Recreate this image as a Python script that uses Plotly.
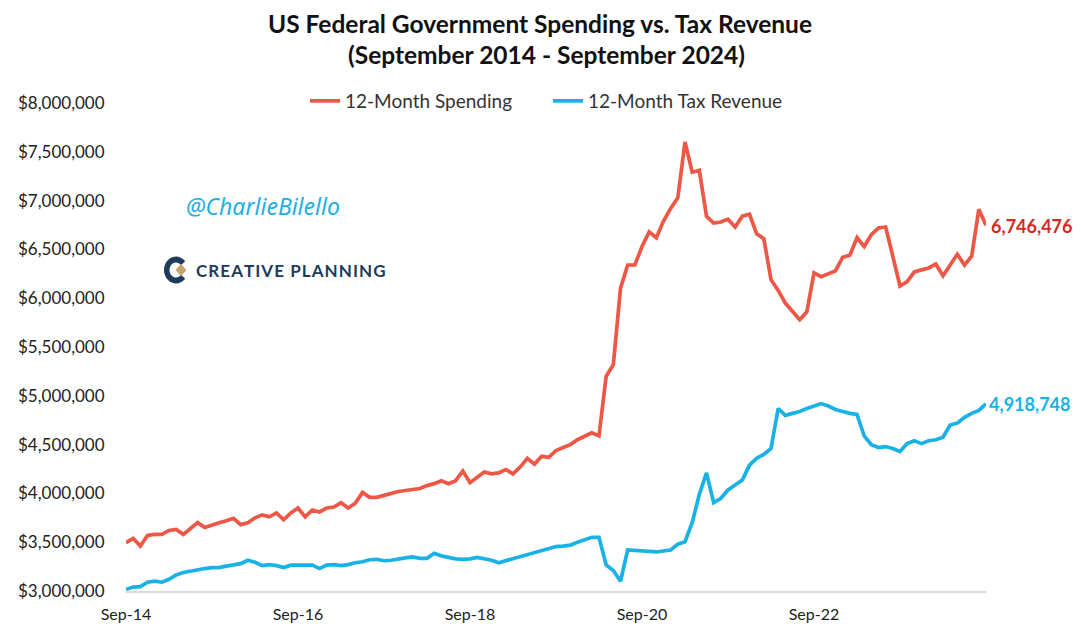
import numpy as np
import pandas as pd
import plotly.graph_objects as go

# ---------------- data (USD millions, 12-month rolling) ----------------
SCALE = 1_000_000
months = pd.date_range("2014-09-01", periods=121, freq="MS").strftime("%b-%y").tolist()

spending = [
    3.495, 3.54, 3.46, 3.57, 3.58, 3.58, 3.62, 3.63, 3.58, 3.64,
    3.70, 3.65, 3.68, 3.70, 3.72, 3.745, 3.68, 3.70, 3.75, 3.78,
    3.76, 3.80, 3.73, 3.80, 3.85, 3.76, 3.83, 3.81, 3.85, 3.86,
    3.905, 3.85, 3.90, 4.01, 3.96, 3.96, 3.98, 4.00, 4.02, 4.03,
    4.04, 4.05, 4.08, 4.10, 4.13, 4.10, 4.13, 4.23, 4.11, 4.165,
    4.22, 4.20, 4.21, 4.245, 4.20, 4.27, 4.36, 4.30, 4.38, 4.37,
    4.44, 4.47, 4.50, 4.55, 4.59, 4.62, 4.59, 5.20, 5.32, 6.10,
    6.34, 6.34, 6.53, 6.68, 6.62, 6.79, 6.92, 7.03, 7.60, 7.29,
    7.31, 6.84, 6.77, 6.78, 6.81, 6.73, 6.84, 6.86, 6.66, 6.61,
    6.19, 6.08, 5.95, 5.87, 5.78, 5.86, 6.26, 6.22, 6.25, 6.28,
    6.42, 6.44, 6.62, 6.53, 6.65, 6.72, 6.73, 6.43, 6.125, 6.17,
    6.27, 6.29, 6.31, 6.35, 6.23, 6.34, 6.45, 6.34, 6.43, 6.91,
    6.746476,
]

tax_revenue = [
    3.017, 3.04, 3.045, 3.09, 3.10, 3.09, 3.12, 3.165, 3.19, 3.205,
    3.215, 3.23, 3.24, 3.24, 3.255, 3.265, 3.28, 3.315, 3.295, 3.26,
    3.27, 3.26, 3.24, 3.265, 3.265, 3.265, 3.265, 3.23, 3.265, 3.27,
    3.26, 3.27, 3.29, 3.30, 3.32, 3.325, 3.31, 3.315, 3.33, 3.34,
    3.35, 3.335, 3.335, 3.386, 3.36, 3.345, 3.33, 3.325, 3.33, 3.345,
    3.33, 3.315, 3.29, 3.31, 3.335, 3.355, 3.375, 3.40, 3.42, 3.44,
    3.455, 3.46, 3.47, 3.50, 3.53, 3.55, 3.55, 3.266, 3.21, 3.10,
    3.42, 3.413, 3.41, 3.405, 3.40, 3.41, 3.42, 3.48, 3.505, 3.70,
    3.99, 4.21, 3.905, 3.95, 4.035, 4.086, 4.137, 4.29, 4.36, 4.40,
    4.46, 4.87, 4.80, 4.82, 4.84, 4.87, 4.895, 4.92, 4.895, 4.86,
    4.84, 4.82, 4.81, 4.59, 4.50, 4.47, 4.48, 4.46, 4.43, 4.51,
    4.54, 4.51, 4.54, 4.55, 4.575, 4.70, 4.72, 4.78, 4.82, 4.85,
    4.918748,
]

x_tick_labels = ["Sep-14", "Sep-16", "Sep-18", "Sep-20", "Sep-22"]
y_ticks = [3.0, 3.5, 4.0, 4.5, 5.0, 5.5, 6.0, 6.5, 7.0, 7.5, 8.0]

spend_vals = [round(v * SCALE) for v in spending]
tax_vals = [round(v * SCALE) for v in tax_revenue]

# ---------------- layout geometry (page has an 8px body margin) ----------------
OX, OY = 8, 8
W, H = 1069, 615
PLOT_L, PLOT_R, PLOT_T, PLOT_B = 126, 986, 103, 591   # target page pixels
L = PLOT_L - OX
T = PLOT_T - OY
R = W - (PLOT_R - OX)
B = H - (PLOT_B - OY)
PW, PH = PLOT_R - PLOT_L, PLOT_B - PLOT_T


def px(x):
    return (x - PLOT_L) / PW


def py(y):
    return (PLOT_B - y) / PH


FONT = "Lato, 'Open Sans', sans-serif"
RED = "#EE5645"
BLUE = "#19B2E6"
NAVY = "#1E3B5C"

fig = go.Figure()
fig.add_trace(go.Scatter(x=months, y=spend_vals, mode="lines", name="12-Month Spending",
                         line=dict(color=RED, width=3.7)))
fig.add_trace(go.Scatter(x=months, y=tax_vals, mode="lines", name="12-Month Tax Revenue",
                         line=dict(color=BLUE, width=3.7)))

# end labels
fig.add_annotation(x=months[-1], y=spend_vals[-1], text=f"<b>{spend_vals[-1]:,.0f}</b>",
                   showarrow=False, xanchor="left", xshift=3, yshift=-1,
                   font=dict(color="#D42A1E", size=18, family=FONT))
fig.add_annotation(x=months[-1], y=tax_vals[-1], text=f"<b>{tax_vals[-1]:,.0f}</b>",
                   showarrow=False, xanchor="left", xshift=1,
                   font=dict(color=BLUE, size=18, family=FONT))

# titles
fig.add_annotation(xref="paper", yref="paper", x=px(540), y=py(23), xanchor="center", yanchor="middle",
                   text="<b>US Federal Government Spending vs. Tax Revenue</b>", showarrow=False,
                   font=dict(size=24.5, color="#111111", family=FONT))
fig.add_annotation(xref="paper", yref="paper", x=px(546), y=py(55), xanchor="center", yanchor="middle",
                   text="<b>(September 2014 - September 2024)</b>", showarrow=False,
                   font=dict(size=24.5, color="#111111", family=FONT))

# watermark / logo
fig.add_annotation(xref="paper", yref="paper", x=px(263), y=py(206), xanchor="center", yanchor="middle",
                   text="<i>@CharlieBilello</i>", showarrow=False,
                   font=dict(size=23, color="#25AEE3", family="'Noto Sans', sans-serif"))
fig.add_annotation(xref="paper", yref="paper", x=px(194), y=py(270), xanchor="left", yanchor="middle",
                   text="<b>" + "\u200a".join("CREATIVE PLANNING") + "</b>", showarrow=False,
                   font=dict(size=17, color=NAVY, family=FONT))

# logo icon: navy "C" with a gold diamond
cx, cy = 176, 270
ang = np.linspace(np.radians(40), np.radians(320), 30)
outer = [(cx + 12 * np.cos(a), cy - 13.5 * np.sin(a)) for a in ang]
inner = [(cx + 6.5 * np.cos(a), cy - 7.5 * np.sin(a)) for a in ang[::-1]]
pts = outer + inner
path = "M " + " L ".join(f"{px(x):.5f},{py(y):.5f}" for x, y in pts) + " Z"
fig.add_shape(type="path", xref="paper", yref="paper", path=path,
              fillcolor=NAVY, line=dict(width=0))
d = [(181, 264), (186.5, 270), (181, 276), (175.5, 270)]
path2 = "M " + " L ".join(f"{px(x):.5f},{py(y):.5f}" for x, y in d) + " Z"
fig.add_shape(type="path", xref="paper", yref="paper", path=path2,
              fillcolor="#C9A46C", line=dict(width=0))

fig.update_layout(
    width=W, height=H,
    margin=dict(l=L, r=R, t=T, b=B, autoexpand=False),
    paper_bgcolor="white", plot_bgcolor="white",
    font=dict(family=FONT, color="#222222"),
    showlegend=True,
    legend=dict(orientation="h", x=px(548), y=py(101), xanchor="center", yanchor="middle",
                font=dict(size=19, color="#333333"), itemwidth=30,
                entrywidth=198, entrywidthmode="pixels", bgcolor="rgba(0,0,0,0)"),
    xaxis=dict(type="category", categoryorder="array", categoryarray=months,
               range=[0, len(months) - 1],
               tickmode="array", tickvals=x_tick_labels, ticktext=x_tick_labels,
               showgrid=False, zeroline=False,
               showline=True, linecolor="#D9D9D9", linewidth=2,
               ticks="outside", ticklen=8, tickcolor="rgba(0,0,0,0)",
               tickfont=dict(size=16, color="#222222")),
    yaxis=dict(range=[3 * SCALE, 8 * SCALE], tickmode="array",
               tickvals=[v * SCALE for v in y_ticks], tickformat="$,.0f",
               showgrid=False, zeroline=False, showline=False,
               ticks="outside", ticklen=17, tickcolor="rgba(0,0,0,0)",
               tickfont=dict(size=17, color="#222222")),
)

fig.write_html("out.html")
